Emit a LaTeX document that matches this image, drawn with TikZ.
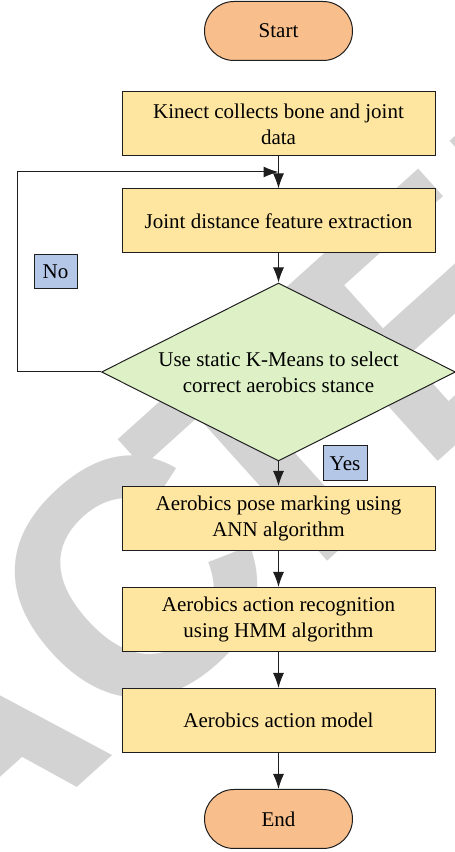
\documentclass[tikz,border=0pt]{standalone}
\usepackage{fontspec}
\setmainfont{Liberation Serif}
\newfontfamily\wmfont{Liberation Sans}
\usetikzlibrary{shapes.geometric,shapes.misc,arrows.meta}
\definecolor{termfill}{RGB}{248,190,140}
\definecolor{boxfill}{RGB}{255,230,160}
\definecolor{decfill}{RGB}{222,241,198}
\definecolor{labfill}{RGB}{180,199,231}
\definecolor{wmgray}{RGB}{211,211,211}
\definecolor{edge}{RGB}{30,30,30}
\begin{document}
\begin{tikzpicture}[x=1pt,y=1pt,
  every node/.style={font=\fontsize{21}{26}\selectfont, text=black},
  term/.style={draw=edge, line width=1pt, fill=termfill, rounded rectangle, minimum width=148pt, minimum height=59pt, inner sep=0pt},
  procbox/.style={draw=edge, line width=1pt, fill=boxfill, minimum width=313pt, minimum height=64pt, align=center, inner sep=0pt},
  decbox/.style={draw=edge, line width=1pt, fill=decfill, diamond, aspect=2, minimum width=354pt, minimum height=178pt, align=center, inner sep=0pt},
  labbox/.style={draw=edge, line width=1pt, fill=labfill, minimum width=43pt, minimum height=34pt, inner sep=0pt},
  wm/.style={font=\wmfont\bfseries\fontsize{335}{335}\selectfont, text=wmgray, inner sep=0pt},
  arr/.style={draw=edge, line width=1pt, -{Latex[length=15pt,width=11pt]}}
]
\useasboundingbox (0,0) rectangle (455,852);
\begin{scope}
\clip (0,0) rectangle (455,852);
\node[wm, anchor=base east, rotate=42] (wmA) at (119,103) {RETRA};
\node[wm, anchor=base west, rotate=42] (wmC) at (119,103) {C\kern-40pt TED};
\end{scope}

\node[term] (start) at (278.5,821) {Start};
\node[procbox] (kinect) at (278.5,728) {Kinect collects bone and joint\\data};
\node[procbox] (joint) at (278.5,631) {Joint distance feature extraction};
\node[decbox] (dec) at (278.5,480) {Use static K-Means to select\\correct aerobics stance};
\node[procbox] (pose) at (278.5,333.5) {Aerobics pose marking using\\ANN algorithm};
\node[procbox] (recog) at (278.5,232.5) {Aerobics action recognition\\using HMM algorithm};
\node[procbox] (model) at (278.5,131.5) {Aerobics action model};
\node[term] (end) at (278.5,33) {End};

\node[labbox] (no) at (55.5,580) {No};
\node[labbox, minimum width=44pt, minimum height=35pt] (yes) at (345,388.5) {Yes};

\coordinate (fb) at (278.5,680);

\draw[arr] (kinect.south) -- (joint.north);
\draw[arr] (joint.south) -- (dec.north);
\draw[arr] (dec.west) -- ++(-84,0) |- (fb);
\draw[arr] (dec.south) -- (pose.north);
\draw[arr] (pose.south) -- (recog.north);
\draw[arr] (recog.south) -- (model.north);
\draw[arr] (model.south) -- (end.north);
\end{tikzpicture}
\end{document}
